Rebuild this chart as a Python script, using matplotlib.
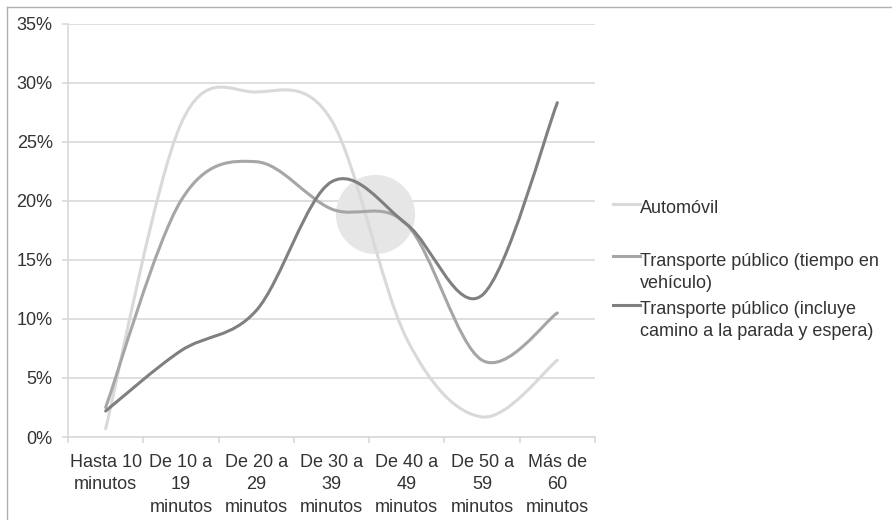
import numpy as np
import matplotlib
matplotlib.use('Agg')
import matplotlib.pyplot as plt
from matplotlib.path import Path
from matplotlib.patches import PathPatch
from matplotlib.lines import Line2D

plt.rcParams['font.family'] = ['Liberation Sans', 'DejaVu Sans']

# Datos (porcentaje de viajes por duración)
categorias = ['Hasta 10\nminutos', 'De 10 a\n19\nminutos', 'De 20 a\n29\nminutos',
              'De 30 a\n39\nminutos', 'De 40 a\n49\nminutos', 'De 50 a\n59\nminutos',
              'Más de\n60\nminutos']
automovil = [0.7, 26.5, 29.2, 26.8, 8.3, 1.7, 6.5]
tp_vehiculo = [2.5, 20.0, 23.3, 19.3, 18.0, 6.5, 10.5]
tp_total = [2.2, 7.3, 10.7, 21.6, 18.0, 12.0, 28.3]

series = [
    ('Automóvil', automovil, '#d9d9d9'),
    ('Transporte público (tiempo en\nvehículo)', tp_vehiculo, '#a6a6a6'),
    ('Transporte público (incluye\ncamino a la parada y espera)', tp_total, '#808080'),
]

# Círculo de resaltado (posición en unidades de datos)
resalte_x = 3.58
resalte_y = 18.9

texto = '#333333'
W, H = 892, 520


def curva_suave(xs, ys):
    # línea suavizada tipo Excel (Bezier / Catmull-Rom)
    p = np.column_stack([xs, ys]).astype(float)
    n = len(p)
    verts = [p[0]]
    codes = [Path.MOVETO]
    for i in range(n - 1):
        p0 = p[max(i - 1, 0)]
        p1 = p[i]
        p2 = p[i + 1]
        p3 = p[min(i + 2, n - 1)]
        verts += [p1 + (p2 - p0) / 6, p2 - (p3 - p1) / 6, p2]
        codes += [Path.CURVE4] * 3
    return Path(verts, codes)


fig = plt.figure(figsize=(W / 100, H / 100), dpi=100)
ax = fig.add_axes([68 / W, 1 - 437 / H, (595 - 68) / W, (437 - 23.5) / H])

x = np.arange(len(categorias))
ax.plot([resalte_x], [resalte_y], 'o', ms=57, color='#e6e6e6', mec='none', zorder=1)

for nombre, vals, col in series:
    ax.add_patch(PathPatch(curva_suave(x, vals), fc='none', ec=col, lw=2.2,
                           capstyle='round', zorder=3))

ax.set_xlim(-0.5, len(categorias) - 0.5)
ax.set_ylim(0, 35)
ax.set_yticks(np.arange(0, 36, 5))
ax.set_yticklabels([f'{v}%' for v in range(0, 36, 5)])
ax.set_xticks(x)
ax.set_xticklabels(categorias, linespacing=1.42)
ax.set_xticks(np.arange(-0.5, len(categorias)), minor=True)

ax.grid(axis='y', color='#d9d9d9', lw=1.2, zorder=0)
ax.set_axisbelow(True)
for s in ['top', 'right']:
    ax.spines[s].set_visible(False)
for s in ['left', 'bottom']:
    ax.spines[s].set_color('#d9d9d9')
    ax.spines[s].set_linewidth(1.2)

ax.tick_params(axis='x', which='major', length=0, pad=12, labelsize=13, colors=texto)
ax.tick_params(axis='x', which='minor', length=4, width=1.2, color='#d9d9d9')
ax.tick_params(axis='y', length=4, width=1.2, color='#d9d9d9', pad=7, labelsize=13,
               labelcolor=texto)

# leyenda manual: (y de la línea, y del texto) en píxeles, 22 px por renglón
leyenda_pos = [(204, 207), (256, 259), (305, 307)]
for (nombre, vals, col), (ym, yt) in zip(series, leyenda_pos):
    fig.add_artist(Line2D([613 / W, 640 / W], [1 - ym / H, 1 - ym / H], color=col, lw=2.2))
    for k, renglon in enumerate(nombre.split('\n')):
        fig.text(640 / W, 1 - (yt + 22 * k) / H, renglon, ha='left',
                 va='center_baseline', fontsize=13, color=texto)

# marco exterior
fig.add_artist(Line2D([7 / W, 1], [1 - 7 / H, 1 - 7 / H], color='#b0b0b0', lw=1))
fig.add_artist(Line2D([7 / W, 7 / W], [0, 1 - 7 / H], color='#b0b0b0', lw=1))

fig.savefig('out.png', dpi=100)
